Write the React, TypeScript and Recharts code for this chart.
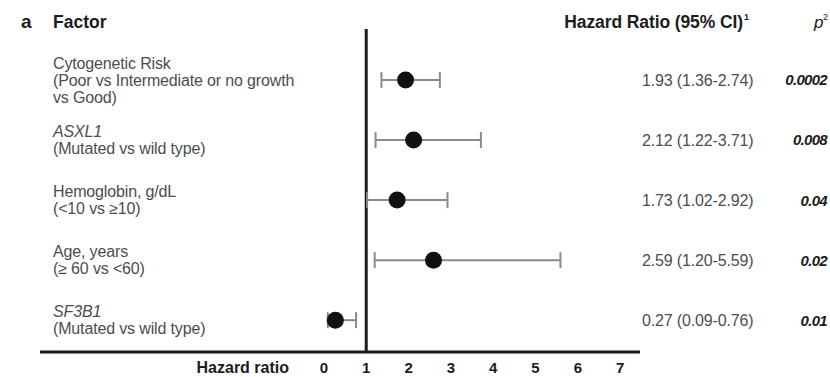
import React from "react";
import {
  ScatterChart,
  Scatter,
  XAxis,
  YAxis,
  ErrorBar,
  ReferenceLine,
} from "recharts";

const factorNames = ["Cytogenetic Risk", "ASXL1", "Hemoglobin, g/dL", "Age, years", "SF3B1"];
const factorNotes = [
  ["(Poor vs Intermediate or no growth", "vs Good)"],
  ["(Mutated vs wild type)"],
  ["(<10 vs \u226510)"],
  ["(\u2265 60 vs <60)"],
  ["(Mutated vs wild type)"],
];
const italicName = [false, true, false, false, true];
const hazardRatio = [1.93, 2.12, 1.73, 2.59, 0.27];
const ciLow = [1.36, 1.22, 1.02, 1.2, 0.09];
const ciHigh = [2.74, 3.71, 2.92, 5.59, 0.76];
const pValues = ["0.0002", "0.008", "0.04", "0.02", "0.01"];
const xTicks = [0, 1, 2, 3, 4, 5, 6, 7];

const data = hazardRatio.map((hr, i) => ({
  row: i,
  hr,
  err: [hr - ciLow[i], ciHigh[i] - hr],
}));

const FONT = "'Liberation Sans', Arial, sans-serif";
const TEXT = "#4d4d4d";
const DARK = "#1c1c1c";

// factor labels on the left, HR text and p on the right, all hung off the row ticks
const RowTick = ({ y, payload }: any) => {
  const i = payload.value;
  const lines = [factorNames[i], ...factorNotes[i]];
  const lh = 17;
  const top = y - ((lines.length - 1) * lh) / 2;
  const txt = `${hazardRatio[i].toFixed(2)} (${ciLow[i].toFixed(2)}-${ciHigh[i].toFixed(2)})`;
  return (
    <g>
      <text fill={TEXT} fontSize={16} fontFamily={FONT} letterSpacing={-0.15}>
        {lines.map((l, k) => (
          <tspan
            key={k}
            x={53}
            y={top + k * lh}
            dy="0.36em"
            fontStyle={k === 0 && italicName[i] ? "italic" : "normal"}
          >
            {l}
          </tspan>
        ))}
      </text>
      <text x={642} y={y} dy="0.36em" fill={TEXT} fontSize={16} fontFamily={FONT} letterSpacing={-0.15}>
        {txt}
      </text>
      <text
        x={827}
        y={y}
        dy="0.36em"
        textAnchor="end"
        fill={DARK}
        fontSize={15}
        fontWeight="bold"
        fontStyle="italic"
        fontFamily={FONT}
        letterSpacing={-0.7}
      >
        {pValues[i]}
      </text>
    </g>
  );
};

const BottomTick = ({ x, y, payload }: any) => (
  <text x={x} y={y + 21} textAnchor="middle" fill={DARK} fontSize={15} fontWeight="bold" fontFamily={FONT}>
    {payload.value}
  </text>
);

const Dot = ({ cx, cy }: any) => <circle cx={cx} cy={cy} r={8.5} fill="#111" />;

export default function App() {
  return (
    <div style={{ position: "absolute", left: 0, top: 0, width: 830, height: 377, background: "#fff" }}>
      <ScatterChart width={830} height={377} margin={{ top: 29, right: 190, bottom: 0, left: 0 }}>
        <XAxis
          type="number"
          dataKey="hr"
          domain={[-6.71, 7.47]}
          ticks={xTicks}
          allowDataOverflow
          height={25}
          tickLine={false}
          tickSize={0}
          tickMargin={0}
          axisLine={{ stroke: DARK, strokeWidth: 3 }}
          tick={<BottomTick />}
        />
        <YAxis
          type="number"
          dataKey="row"
          domain={[-0.85, 4.53]}
          reversed
          ticks={[0, 1, 2, 3, 4]}
          width={40}
          axisLine={false}
          tickLine={false}
          tick={<RowTick />}
        />
        <ReferenceLine x={1} stroke={DARK} strokeWidth={3} />
        <Scatter data={data} shape={<Dot />} isAnimationActive={false}>
          <ErrorBar dataKey="err" direction="x" width={8} stroke="#8a8a8a" strokeWidth={2} />
        </Scatter>
      </ScatterChart>
      <svg width={830} height={377} style={{ position: "absolute", left: 0, top: 0, pointerEvents: "none" }}>
        <text x={21} y={28} fontSize={19} fontWeight="bold" fill={DARK} fontFamily={FONT}>a</text>
        <text x={53} y={28} fontSize={17.5} fontWeight="bold" fill={DARK} fontFamily={FONT}>Factor</text>
        <text x={743} y={28} textAnchor="end" fontSize={17.5} fontWeight="bold" fill={DARK} fontFamily={FONT} letterSpacing={-0.1}>
          Hazard Ratio (95% CI)
        </text>
        <text x={744} y={20} fontSize={9} fontWeight="bold" fill={DARK} fontFamily={FONT}>1</text>
        <text x={814} y={28} fontSize={17} fontStyle="italic" fill={DARK} fontFamily={FONT}>p</text>
        <text x={823} y={20} fontSize={9} fill={DARK} fontFamily={FONT}>2</text>
        <text x={289} y={373} textAnchor="end" fontSize={16} fontWeight="bold" fill={DARK} fontFamily={FONT}>Hazard ratio</text>
      </svg>
    </div>
  );
}
